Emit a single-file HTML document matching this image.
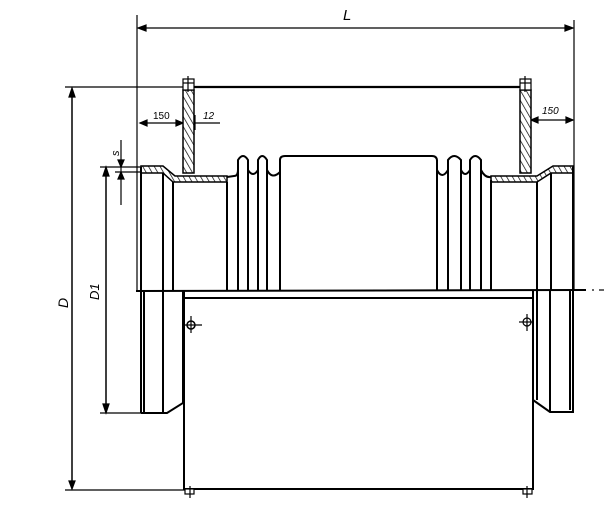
<!DOCTYPE html>
<html><head><meta charset="utf-8"><style>
html,body{margin:0;padding:0;background:#fff;}
svg{display:block;}
text{font-family:"Liberation Sans",sans-serif;fill:#000;}
</style></head><body>
<svg width="604" height="508" viewBox="0 0 604 508" xmlns="http://www.w3.org/2000/svg">
<defs>
<pattern id="h" width="5" height="5" patternUnits="userSpaceOnUse" patternTransform="rotate(-30)">
<rect width="5" height="5" fill="#fff"/><line x1="0" y1="0" x2="0" y2="5" stroke="#000" stroke-width="1.4"/>
</pattern>
</defs>
<g stroke="#000" fill="none" stroke-width="1.2">
<line x1="137" y1="15" x2="137" y2="290"/>
<line x1="574" y1="20" x2="574" y2="290"/>
<line x1="140" y1="28" x2="571" y2="28"/>
<path d="M146,25 L138,28 L146,31z M565,25 L573,28 L565,31z" fill="#000"/>
<line x1="65" y1="87" x2="183" y2="87"/>
<line x1="190" y1="87" x2="520" y2="87" stroke-width="2.2"/>
<line x1="72" y1="95" x2="72" y2="482" stroke-width="1.5"/>
<path d="M69,97 L72,88 L75,97z M69,481 L72,489 L75,481z" fill="#000"/>
<line x1="65" y1="490" x2="185" y2="490"/>
<line x1="106" y1="175" x2="106" y2="405" stroke-width="1.5"/>
<path d="M103,176 L106,167 L109,176z M103,404 L106,413 L109,404z" fill="#000"/>
<line x1="100" y1="167" x2="141" y2="167"/>
<line x1="100" y1="413" x2="167" y2="413"/>
<line x1="121" y1="140" x2="121" y2="205"/>
<path d="M118,160 L121,167 L124,160z M118,179 L121,172 L124,179z" fill="#000"/>
<line x1="115" y1="172" x2="141" y2="172"/>
<line x1="140" y1="123" x2="183" y2="123"/>
<path d="M147,120 L140,123 L147,126z M176,120 L183,123 L176,126z" fill="#000"/>
<line x1="195" y1="123" x2="220" y2="123"/>
<line x1="195" y1="115" x2="195" y2="130"/>
<line x1="531" y1="120" x2="573" y2="120"/>
<path d="M538,117 L531,120 L538,123z M566,117 L573,120 L566,123z" fill="#000"/>
<rect x="183" y="90" width="11" height="83" fill="url(#h)" stroke-width="1.5"/>
<rect x="520" y="90" width="11" height="83" fill="url(#h)" stroke-width="1.5"/>
<rect x="183" y="79" width="11" height="11" fill="#fff"/>
<line x1="183" y1="83" x2="194" y2="83"/><line x1="188" y1="76" x2="188" y2="92"/>
<rect x="520" y="79" width="11" height="11" fill="#fff"/>
<line x1="520" y1="83" x2="531" y2="83"/><line x1="525" y1="76" x2="525" y2="92"/>
<path d="M141,166 L163,166 L175,176 L227,176 L227,182 L173,182 L163,173 L141,173z" fill="url(#h)" stroke-width="1.5"/>
<path d="M491,176 L537,176 L553,166 L573,166 L573,173 L551,173 L537,182 L491,182z" fill="url(#h)" stroke-width="1.5"/>
<g stroke-width="2">
<line x1="141" y1="167" x2="141" y2="290"/>
<line x1="163" y1="173" x2="163" y2="290"/>
<line x1="173" y1="182" x2="173" y2="290"/>
<line x1="227" y1="182" x2="227" y2="290"/>
<line x1="238" y1="160" x2="238" y2="290"/>
<line x1="248" y1="160" x2="248" y2="290"/>
<line x1="258" y1="160" x2="258" y2="290"/>
<line x1="267" y1="160" x2="267" y2="290"/>
<line x1="280" y1="160" x2="280" y2="290"/>
<line x1="437" y1="160" x2="437" y2="290"/>
<line x1="448" y1="160" x2="448" y2="290"/>
<line x1="461" y1="160" x2="461" y2="290"/>
<line x1="470" y1="160" x2="470" y2="290"/>
<line x1="481" y1="160" x2="481" y2="290"/>
<line x1="491" y1="180" x2="491" y2="290"/>
<line x1="537" y1="182" x2="537" y2="290"/>
<line x1="551" y1="173" x2="551" y2="290"/>
<line x1="573" y1="167" x2="573" y2="290"/>
<path d="M227,177 L234,176 Q238,176 238,170 L238,160 Q243,152 248,160 L248,170 Q253,178 258,170 L258,160 Q262,152 267,160 L267,170 Q272,180 280,172 L280,160 Q280,156 285,156 L432,156 Q437,156 437,161 L437,170 Q442,180 448,170 L448,160 Q454,152 461,160 L461,170 Q465,178 470,170 L470,160 Q475,152 481,160 L481,170 Q485,178 491,177"/>
</g>
<line x1="136" y1="291" x2="586" y2="290" stroke-width="2"/>
<line x1="592" y1="290" x2="594" y2="290"/><line x1="599" y1="290" x2="604" y2="290"/>
<g stroke-width="2">
<line x1="141" y1="291" x2="141" y2="413"/>
<line x1="144" y1="291" x2="144" y2="413"/>
<line x1="163" y1="291" x2="163" y2="413"/>
<path d="M141,413 L167,413 L183,403 L183,291"/>
<rect x="184" y="298" width="349" height="191"/>
<line x1="184" y1="291" x2="184" y2="298"/>
<line x1="533" y1="290" x2="533" y2="298"/>
<path d="M533,400 L550,412 L573,412 L573,290"/>
<line x1="537" y1="290" x2="537" y2="400"/>
<line x1="550" y1="290" x2="550" y2="412"/>
<line x1="570" y1="290" x2="570" y2="410"/>
</g>
<circle cx="191" cy="325" r="4" stroke-width="1.5"/>
<line x1="185" y1="325" x2="202" y2="325"/><line x1="191" y1="316" x2="191" y2="333"/>
<circle cx="527" cy="322" r="4"/>
<line x1="519" y1="322" x2="533" y2="322"/><line x1="527" y1="314" x2="527" y2="331"/>
<rect x="185" y="489" width="9" height="5" fill="#fff"/><line x1="190" y1="486" x2="190" y2="498"/>
<rect x="523" y="489" width="9" height="5" fill="#fff"/><line x1="527" y1="486" x2="527" y2="498"/>
</g>
<text x="343" y="20" font-size="15" font-style="italic">L</text>
<text x="153" y="119" font-size="10">150</text>
<text x="203" y="119" font-size="10" font-style="italic">12</text>
<text x="542" y="114" font-size="10" font-style="italic">150</text>
<text transform="translate(68,308) rotate(-90)" font-size="14" font-style="italic" font-family="Liberation Serif">D</text>
<text transform="translate(99,300) rotate(-90)" font-size="13" font-style="italic" font-family="Liberation Serif">D1</text>
<text transform="translate(119,156) rotate(-90)" font-size="11" font-style="italic">s</text>
</svg>
</body></html>
